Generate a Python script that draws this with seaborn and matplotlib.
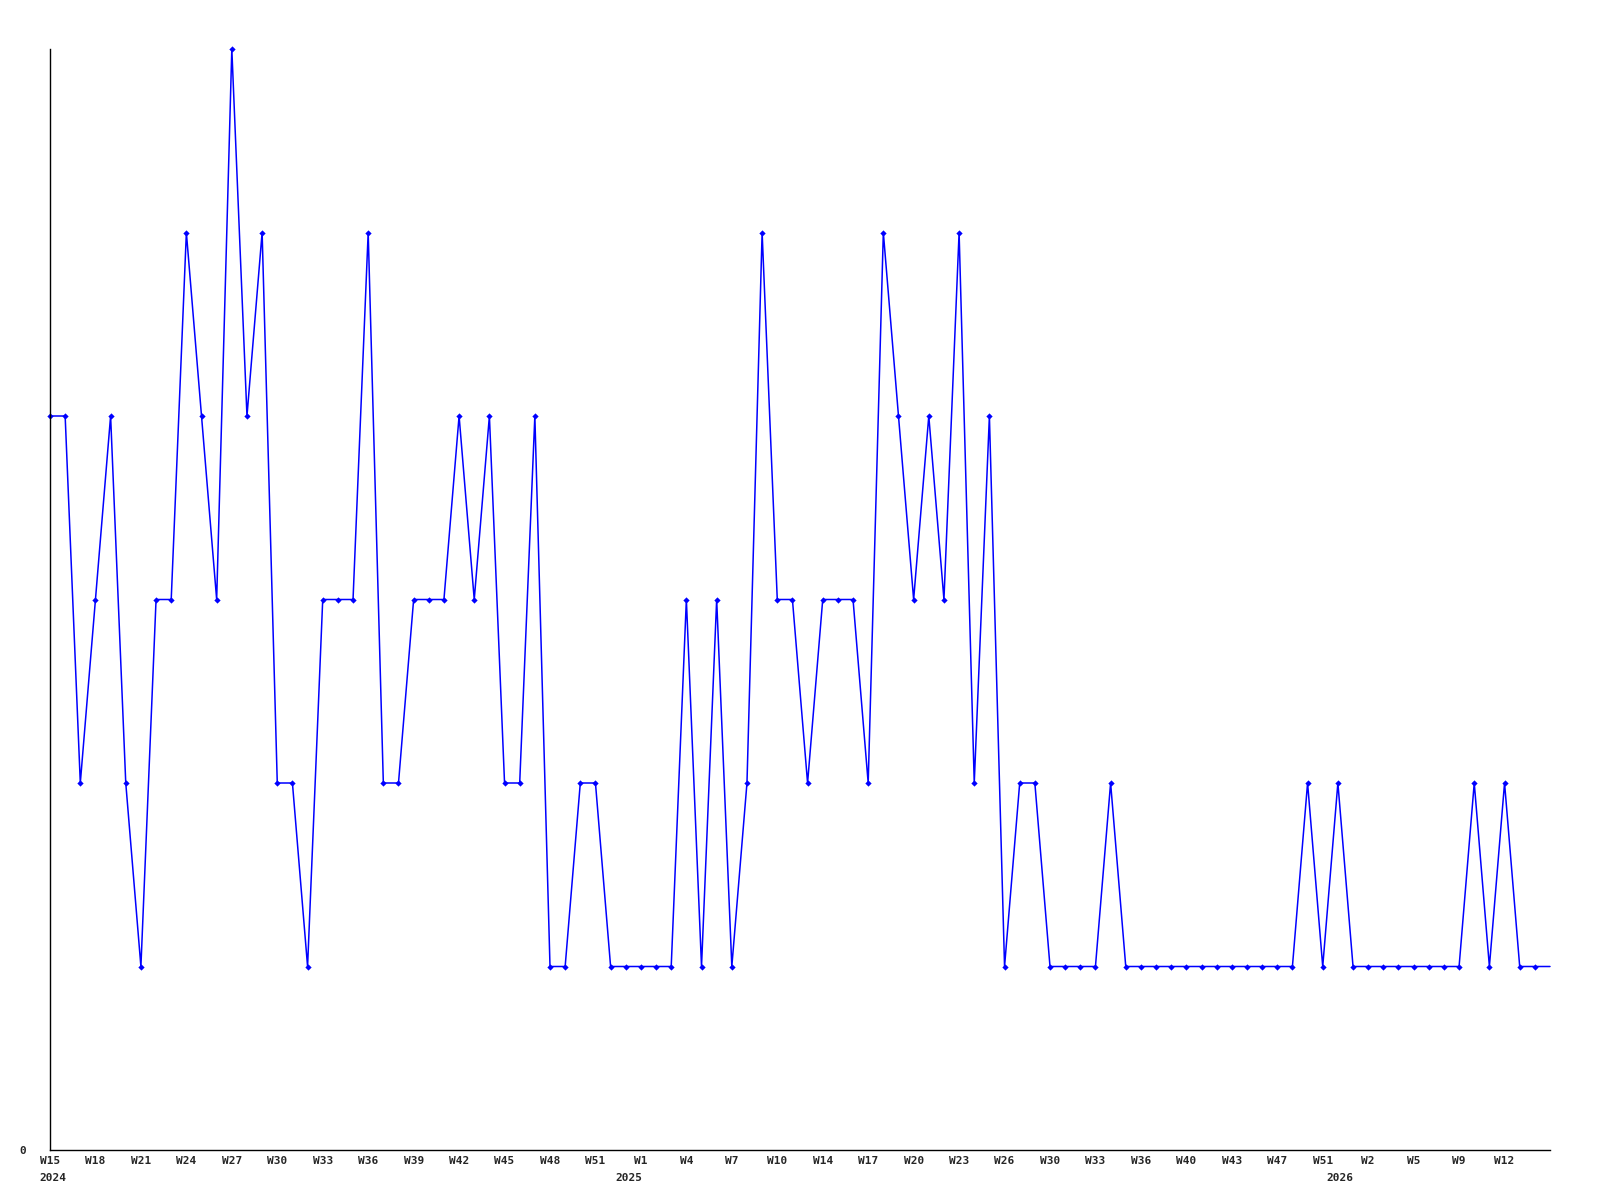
import numpy as np
import pandas as pd
import matplotlib
matplotlib.use("Agg")
import matplotlib.pyplot as plt
import seaborn as sns

# weekly counts (one value per week point)
values = [4, 4, 2, 3, 4, 2, 1, 3, 3, 5,
          4, 3, 6, 4, 5, 2, 2, 1, 3, 3,
          3, 5, 2, 2, 3, 3, 3, 4, 3, 4,
          2, 2, 4, 1, 1, 2, 2, 1, 1, 1,
          1, 1, 3, 1, 3, 1, 2, 5, 3, 3,
          2, 3, 3, 3, 2, 5, 4, 3, 4, 3,
          5, 2, 4, 1, 2, 2, 1, 1, 1, 1,
          2, 1, 1, 1, 1, 1, 1, 1, 1, 1,
          1, 1, 1, 2, 1, 2, 1, 1, 1, 1,
          1, 1, 1, 1, 2, 1, 2, 1, 1, 1]

week_labels = ["W15", "W18", "W21", "W24", "W27", "W30", "W33", "W36", "W39",
               "W42", "W45", "W48", "W51", "W1", "W4", "W7", "W10", "W14",
               "W17", "W20", "W23", "W26", "W30", "W33", "W36", "W40", "W43",
               "W47", "W51", "W2", "W5", "W9", "W12"]
year_labels = ["2024", "2025", "2026"]
year_pos = [0.2, 38.2, 85.1]

df = pd.DataFrame({"idx": np.arange(len(values)), "count": values})

sns.set_style("white")
plt.rcParams["font.family"] = ["DejaVu Sans Mono", "DejaVu Sans"]

fig = plt.figure(figsize=(16, 12), dpi=100)
ax = fig.add_axes([50 / 1600, 50 / 1200, 1500 / 1600, 1101 / 1200])

sns.lineplot(data=df, x="idx", y="count", ax=ax, color="#0000ff",
             linewidth=1.1, marker="D", markersize=3.2, markeredgewidth=0,
             markevery=slice(0, len(values) - 1), clip_on=False)

ax.set_xlim(0, len(values) - 1)
ax.set_ylim(0, 6)
ax.set_xlabel("")
ax.set_ylabel("")

ax.set_xticks(np.arange(0, 3 * len(week_labels), 3))
ax.set_xticklabels(week_labels, fontsize=8, fontweight="bold")
ax.set_yticks([0])
ax.set_yticklabels(["0"], fontsize=8, fontweight="bold")
ax.tick_params(axis="x", length=0, pad=4)
ax.tick_params(axis="y", length=0, pad=17)

for yr, xp in zip(year_labels, year_pos):
    ax.annotate(yr, xy=(xp, 0), xycoords=("data", "axes fraction"),
                xytext=(0, -20), textcoords="offset points", ha="center",
                va="center", fontsize=8, fontweight="bold",
                annotation_clip=False)

sns.despine(ax=ax, top=True, right=True)
for s in ["left", "bottom"]:
    ax.spines[s].set_color("black")
    ax.spines[s].set_linewidth(1)

fig.savefig("out.png", dpi=100, facecolor="white")
